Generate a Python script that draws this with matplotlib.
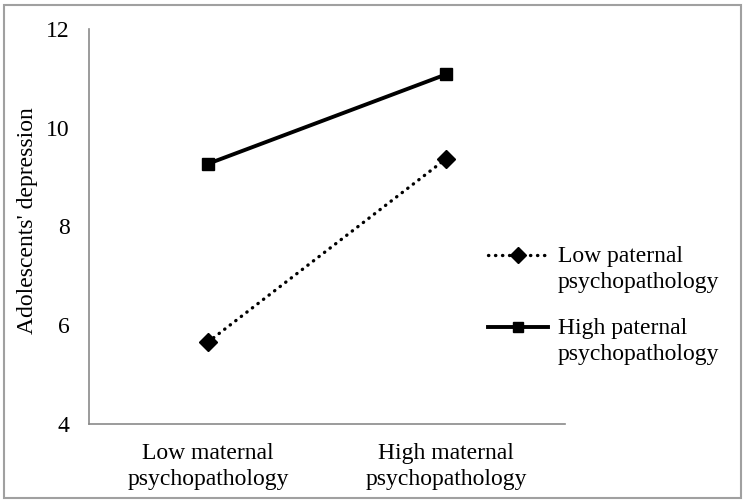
import matplotlib
matplotlib.use("Agg")
import matplotlib.pyplot as plt
from matplotlib.patches import Rectangle
from matplotlib.offsetbox import DrawingArea
from matplotlib.transforms import Affine2D

categories = ["Low maternal\npsychopathology", "High maternal\npsychopathology"]
low_paternal = [5.66, 9.37]
high_paternal = [9.27, 11.08]
series_labels = ["Low paternal\npsychopathology", "High paternal\npsychopathology"]
y_ticks = [4, 6, 8, 10, 12]

plt.rcParams['font.family'] = ['Liberation Serif', 'DejaVu Serif']
plt.rcParams['font.size'] = 17

fig = plt.figure(figsize=(7.46, 5.04), dpi=100)
ax = fig.add_axes([89/746, 1-424/504, 476/746, 395/504])

x = list(range(len(categories)))
ax.plot(x, low_paternal, color='black', linestyle=(0, (0.1, 2.0)), linewidth=2.4,
        dash_capstyle='round', marker='D', markersize=9.5, label=series_labels[0])
ax.plot(x, high_paternal, color='black', linestyle='-', linewidth=2.8,
        marker='s', markersize=8.5, label=series_labels[1])

ax.set_xlim(-0.5, 1.5)
ax.set_ylim(4, 12)
ax.set_yticks(y_ticks)
ax.set_xticks(x)
ax.set_xticklabels(categories, linespacing=1.3)
ax.tick_params(axis='both', length=0, labelsize=17)
ax.tick_params(axis='y', pad=14)
ax.tick_params(axis='x', pad=14)
for s in ['top', 'right']:
    ax.spines[s].set_visible(False)
for s in ['left', 'bottom']:
    ax.spines[s].set_color('#8a8a8a')
    ax.spines[s].set_linewidth(1.2)
ax.set_ylabel("Adolescents' depression", fontsize=17)
ax.yaxis.set_label_coords(-0.108, 0.516)

leg = ax.legend(loc='upper left', bbox_to_anchor=(488/746, 1-246/504),
                bbox_transform=fig.transFigure, frameon=False, fontsize=17,
                handlelength=2.55, handletextpad=0.42, labelspacing=1.07,
                borderpad=0, borderaxespad=0, markerscale=0.85)
for t in leg.get_texts():
    t.set_linespacing(1.3)
for da in leg.findobj(DrawingArea):
    for child in da.get_children():
        child.set_transform(child.get_transform() + Affine2D().translate(0, 14))

fig.patches.append(Rectangle((4/746, 1-498/504), 737/746, 493/504,
                             transform=fig.transFigure, fill=False,
                             edgecolor='#a0a0a0', linewidth=1.5))

fig.savefig("out.png", dpi=100)
